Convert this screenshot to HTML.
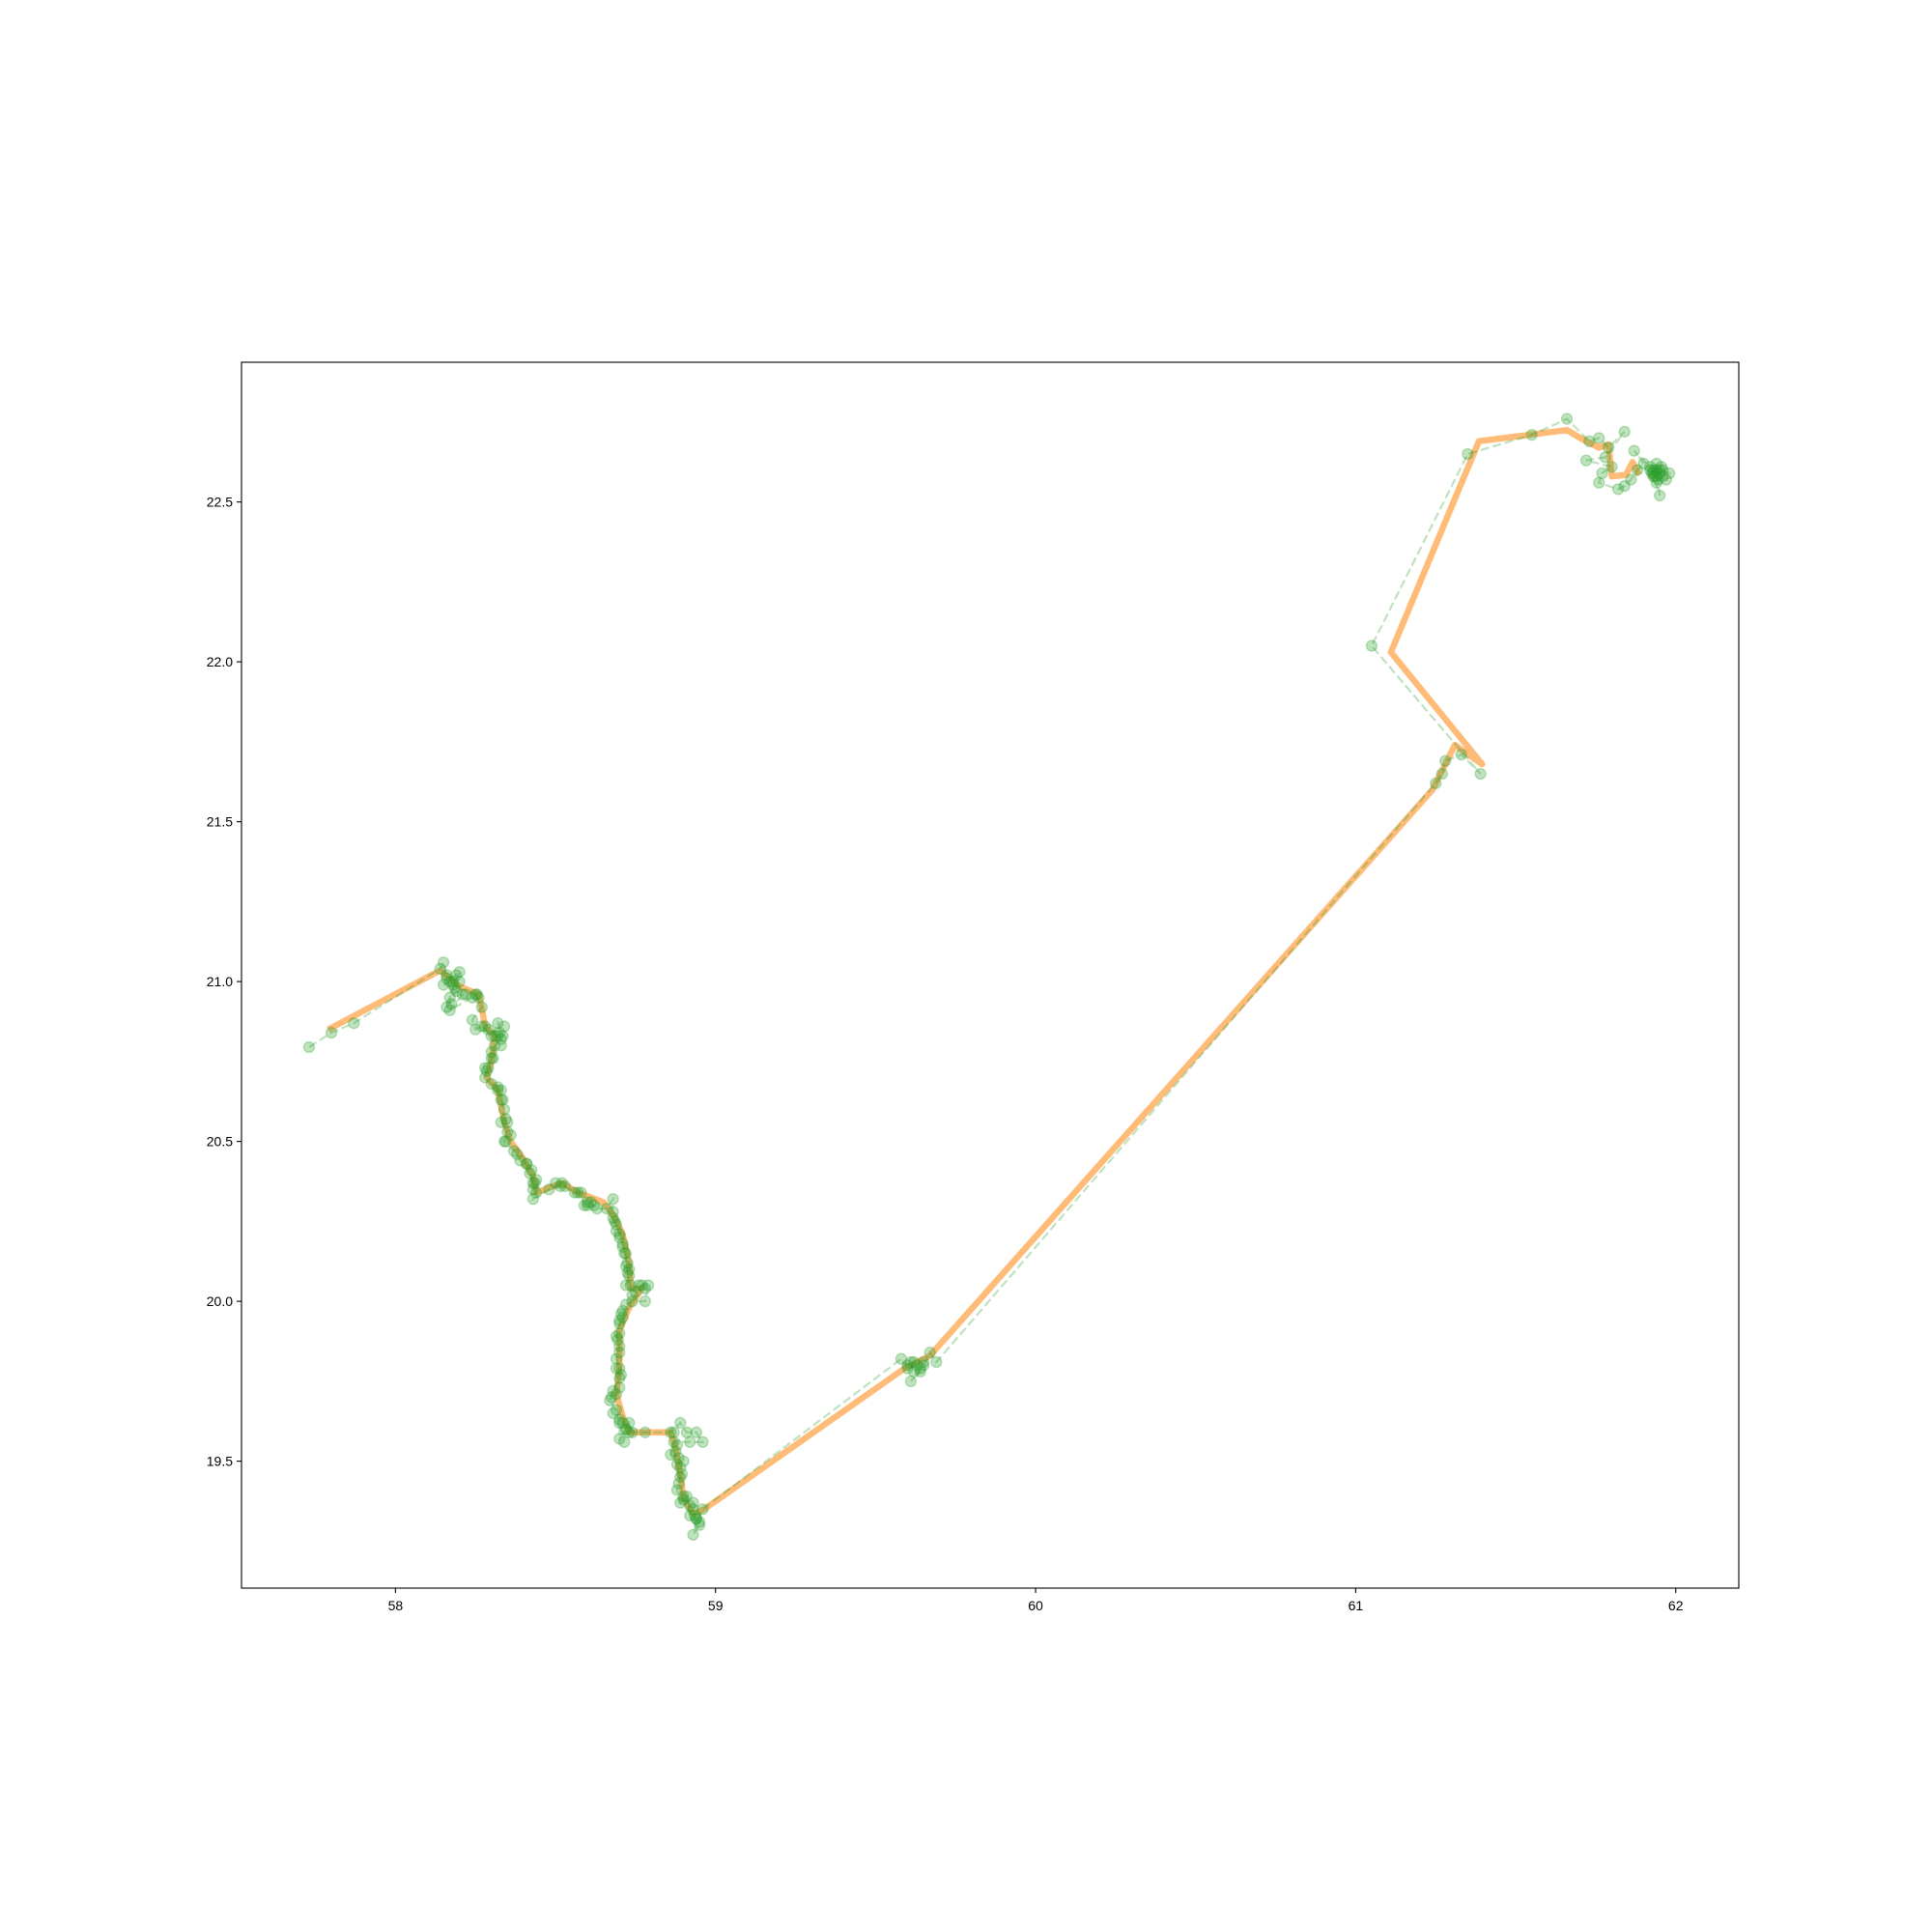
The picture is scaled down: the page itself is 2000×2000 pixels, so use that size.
<!DOCTYPE html>
<html><head><meta charset="utf-8"><style>
html,body{margin:0;padding:0;background:#fff;}
svg{display:block;font-family:"Liberation Sans","DejaVu Sans",sans-serif;}
</style></head><body>
<svg id="chart" width="2000" height="2000" viewBox="0 0 2000 2000">
<rect width="2000" height="2000" fill="#fff"/>
<g id="plot"></g>
<g id="axes"></g>
</svg>
<script>
const xTicks = [58, 59, 60, 61, 62];
const xTickLabels = ["58", "59", "60", "61", "62"];
const yTicks = [19.5, 20.0, 20.5, 21.0, 21.5, 22.0, 22.5];
const yTickLabels = ["19.5", "20.0", "20.5", "21.0", "21.5", "22.0", "22.5"];

const smoothX = [57.79,58.14,58.20,58.26,58.27,58.28,58.31,58.30,58.285,58.32,58.34,58.36,58.40,58.43,58.44,58.52,58.57,58.65,58.68,58.71,58.73,58.735,58.77,58.73,58.70,58.70,58.69,58.71,58.73,58.86,58.875,58.89,58.90,58.93,58.965,59.59,59.67,61.24,61.31,61.395,61.11,61.385,61.66,61.71,61.76,61.79,61.80,61.845,61.865,61.885];
const smoothY = [20.85,21.035,20.985,20.96,20.915,20.86,20.83,20.75,20.70,20.66,20.56,20.50,20.445,20.39,20.34,20.37,20.34,20.31,20.27,20.21,20.12,20.04,20.04,19.98,19.91,19.79,19.71,19.64,19.59,19.59,19.54,19.46,19.385,19.335,19.35,19.79,19.83,21.60,21.74,21.68,22.03,22.69,22.725,22.695,22.67,22.68,22.58,22.585,22.625,22.585];

const rawX = [57.73,57.80,57.87,58.14,58.15,58.16,58.18,58.15,58.20,58.17,58.16,58.19,58.21,58.17,58.24,58.25,58.27,58.24,58.25,58.27,58.30,58.32,58.33,58.31,58.30,58.29,58.28,58.30,58.32,58.33,58.34,58.33,58.35,58.34,58.37,58.39,58.41,58.42,58.43,58.44,58.43,58.48,58.52,58.53,58.56,58.58,58.59,58.61,58.63,58.66,58.68,58.68,58.69,58.70,58.71,58.72,58.72,58.73,58.72,58.75,58.77,58.79,58.78,58.74,58.72,58.71,58.70,58.69,58.70,58.69,58.70,58.70,58.68,58.67,58.69,58.70,58.70,58.72,58.73,58.74,58.78,58.86,58.89,58.91,58.94,58.96,58.92,58.87,58.86,58.88,58.89,58.88,58.89,58.91,58.92,58.94,58.95,58.93,58.96,59.58,59.60,59.62,59.64,59.61,59.65,59.67,59.69,61.25,61.27,61.28,61.33,61.39,61.05,61.35,61.55,61.66,61.73,61.76,61.79,61.84,61.78,61.72,61.80,61.77,61.76,61.82,61.84,61.86,61.88,61.90,61.87,61.93,61.95,61.94,61.96,61.98,61.92,61.95,61.94,61.97,61.93,61.96];
const rawY = [20.795,20.84,20.87,21.04,21.06,21.02,21.00,20.99,21.03,20.95,20.92,20.97,20.96,20.91,20.95,20.96,20.92,20.88,20.85,20.86,20.83,20.87,20.82,20.80,20.76,20.73,20.70,20.68,20.66,20.63,20.60,20.56,20.53,20.50,20.47,20.44,20.43,20.40,20.37,20.34,20.32,20.35,20.37,20.36,20.34,20.34,20.30,20.31,20.29,20.29,20.32,20.26,20.24,20.21,20.18,20.15,20.11,20.08,20.05,20.03,20.05,20.05,20.00,20.00,19.99,19.95,19.93,19.89,19.86,19.82,19.79,19.76,19.72,19.69,19.66,19.62,19.57,19.60,19.62,19.59,19.59,19.59,19.62,19.59,19.59,19.56,19.56,19.56,19.52,19.49,19.45,19.41,19.37,19.39,19.33,19.32,19.30,19.27,19.35,19.82,19.79,19.81,19.78,19.75,19.80,19.84,19.81,21.62,21.65,21.69,21.71,21.65,22.05,22.65,22.71,22.76,22.69,22.70,22.67,22.72,22.64,22.63,22.61,22.59,22.56,22.54,22.55,22.57,22.60,22.62,22.66,22.60,22.59,22.56,22.58,22.59,22.61,22.52,22.62,22.57,22.58,22.60];

// repeated observations clustered around the dense segments
const denseX = [58.16,58.17,58.18,58.19,58.185,58.20,58.175,58.22,58.26,58.255,58.28,58.29,58.31,58.32,58.325,58.335,58.34,58.33,58.30,58.305,58.285,58.28,58.32,58.33,58.335,58.345,58.35,58.36,58.345,58.38,58.41,58.425,58.435,58.44,58.43,58.50,58.515,58.57,58.60,58.60,58.62,58.68,58.685,58.69,58.70,58.71,58.715,58.725,58.73,58.725,58.735,58.76,58.78,58.74,58.71,58.705,58.70,58.70,58.695,58.70,58.69,58.705,58.70,58.69,58.675,58.68,58.70,58.71,58.72,58.715,58.73,58.87,58.88,58.875,58.885,58.90,58.89,58.895,58.885,58.90,58.93,58.935,58.94,58.92,58.95,58.90,58.93,59.60,59.61,59.63,59.62,59.64,59.65,61.92,61.93,61.94,61.935,61.945,61.95,61.925,61.955,61.94];
const denseY = [21.01,21.00,20.99,21.02,20.98,21.00,20.93,20.96,20.95,20.96,20.86,20.85,20.83,20.83,20.84,20.83,20.86,20.80,20.78,20.76,20.72,20.73,20.67,20.66,20.63,20.57,20.56,20.52,20.50,20.46,20.43,20.41,20.37,20.38,20.35,20.37,20.36,20.34,20.31,20.30,20.30,20.28,20.25,20.22,20.20,20.17,20.15,20.12,20.10,20.09,20.05,20.05,20.04,20.02,19.97,19.96,19.94,19.90,19.88,19.84,19.79,19.77,19.73,19.71,19.70,19.65,19.63,19.62,19.60,19.56,19.59,19.59,19.55,19.53,19.51,19.50,19.48,19.46,19.43,19.38,19.37,19.33,19.32,19.36,19.31,19.39,19.35,19.80,19.81,19.80,19.78,19.79,19.81,22.60,22.59,22.60,22.58,22.57,22.60,22.59,22.61,22.58];

const L = 250, R = 1800, T = 375, B = 1644;
const xMin = 57.519, xMax = 62.197, yMin = 19.103, yMax = 22.937;
const sx = v => L + (v - xMin) / (xMax - xMin) * (R - L);
const sy = v => B - (v - yMin) / (yMax - yMin) * (B - T);
const NS = "http://www.w3.org/2000/svg";
const plot = document.getElementById('plot');
const axes = document.getElementById('axes');

const defs = document.createElementNS(NS, 'defs');
defs.innerHTML = `<clipPath id="clip"><rect x="${L}" y="${T}" width="${R-L}" height="${B-T}"/></clipPath>`;
document.getElementById('chart').insertBefore(defs, plot);
plot.setAttribute('clip-path', 'url(#clip)');

const smooth = document.createElementNS(NS, 'polyline');
smooth.setAttribute('points', smoothX.map((x, i) => sx(x) + ',' + sy(smoothY[i])).join(' '));
smooth.setAttribute('fill', 'none');
smooth.setAttribute('stroke', '#ffbb78');
smooth.setAttribute('stroke-width', '6.5');
smooth.setAttribute('stroke-linejoin', 'round');


plot.appendChild(smooth);

const raw = document.createElementNS(NS, 'polyline');
raw.setAttribute('points', rawX.map((x, i) => sx(x) + ',' + sy(rawY[i])).join(' '));
raw.setAttribute('fill', 'none');
raw.setAttribute('stroke', '#2ca02c');
raw.setAttribute('stroke-opacity', '0.3');
raw.setAttribute('stroke-width', '2.2');
raw.setAttribute('stroke-dasharray', '9,4');


plot.appendChild(raw);

function addPoint(x, y) {
  const c = document.createElementNS(NS, 'circle');
  c.setAttribute('cx', sx(x));
  c.setAttribute('cy', sy(y));
  c.setAttribute('r', '5.5');
  c.setAttribute('fill', '#2ca02c');
  c.setAttribute('fill-opacity', '0.3');
  c.setAttribute('stroke', '#2ca02c');
  c.setAttribute('stroke-opacity', '0.3');
  c.setAttribute('stroke-width', '1.3');
  
  
  plot.appendChild(c);
}
rawX.forEach((x, i) => addPoint(x, rawY[i]));
denseX.forEach((x, i) => addPoint(x, denseY[i]));

const frame = document.createElementNS(NS, 'rect');
frame.setAttribute('x', L); frame.setAttribute('y', T);
frame.setAttribute('width', R - L); frame.setAttribute('height', B - T);
frame.setAttribute('fill', 'none'); frame.setAttribute('stroke', '#000'); frame.setAttribute('stroke-width', '1.1');


axes.appendChild(frame);

xTicks.forEach((v, i) => {
  const x = sx(v);
  const t = document.createElementNS(NS, 'line');
  t.setAttribute('x1', x); t.setAttribute('x2', x); t.setAttribute('y1', B); t.setAttribute('y2', B + 5);
  t.setAttribute('stroke', '#000'); t.setAttribute('stroke-width', '1.1');
  
  
  axes.appendChild(t);
  const tx = document.createElementNS(NS, 'text');
  tx.setAttribute('x', x); tx.setAttribute('y', B + 23);
  tx.setAttribute('text-anchor', 'middle'); tx.setAttribute('font-size', '14');
  tx.textContent = xTickLabels[i];
  
  
  axes.appendChild(tx);
});
yTicks.forEach((v, i) => {
  const y = sy(v);
  const t = document.createElementNS(NS, 'line');
  t.setAttribute('x1', L - 5); t.setAttribute('x2', L); t.setAttribute('y1', y); t.setAttribute('y2', y);
  t.setAttribute('stroke', '#000'); t.setAttribute('stroke-width', '1.1');
  
  
  axes.appendChild(t);
  const tx = document.createElementNS(NS, 'text');
  tx.setAttribute('x', L - 9); tx.setAttribute('y', y + 5);
  tx.setAttribute('text-anchor', 'end'); tx.setAttribute('font-size', '14');
  tx.textContent = yTickLabels[i];
  
  
  axes.appendChild(tx);
});
</script>
</body></html>
